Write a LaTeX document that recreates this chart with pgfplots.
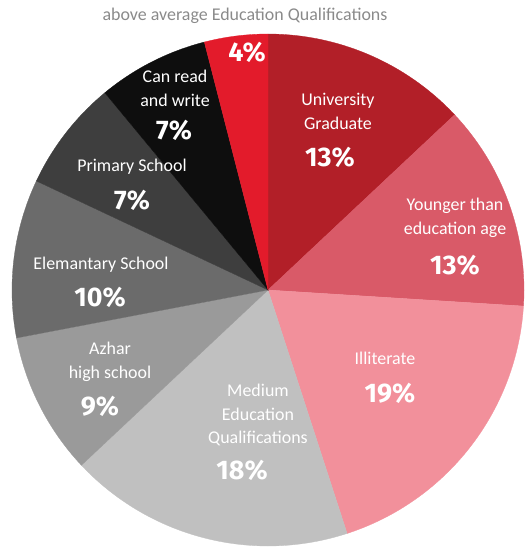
\documentclass[border=0pt]{standalone}
\usepackage{fontspec}
\setmainfont{Carlito}
\newfontfamily\pct{Fira Sans}
\usepackage{pgfplots}
\pgfplotsset{compat=1.18}
\definecolor{cUni}{HTML}{B21F28}
\definecolor{cYou}{HTML}{D95A68}
\definecolor{cIll}{HTML}{F2909B}
\definecolor{cMed}{HTML}{C0C0C0}
\definecolor{cAzh}{HTML}{9A9A9A}
\definecolor{cEle}{HTML}{6B6B6B}
\definecolor{cPri}{HTML}{3E3E3E}
\definecolor{cCan}{HTML}{0E0E0E}
\definecolor{cAbv}{HTML}{E31B2B}
\definecolor{cTitle}{HTML}{8A8A8A}
% slice: colour, start angle, end angle (angles from percentages: 90 - 3.6*cumulative)
\newcommand{\slice}[3]{%
  \addplot[fill=#1, draw=#1, line width=0.3pt, domain=#2:#3, samples=80, variable=\t]
    ({268+256*cos(t)},{290-256*sin(t)}) -- (axis cs:268,290) -- cycle;}
\begin{document}
\begin{tikzpicture}
\begin{axis}[
  scale only axis, width=528bp, height=547bp,
  xmin=0, xmax=528, ymin=0, ymax=547, y dir=reverse,
  hide axis, clip=false]
% percentages: University 13, Younger 13, Illiterate 19, Medium 18, Azhar 9,
% Elementary 10, Primary 7, Can read 7, above average 4
\slice{cUni}{43.2}{90}
\slice{cYou}{-3.6}{43.2}
\slice{cIll}{-72}{-3.6}
\slice{cMed}{-136.8}{-72}
\slice{cAzh}{-169.2}{-136.8}
\slice{cEle}{-205.2}{-169.2}
\slice{cPri}{-230.4}{-205.2}
\slice{cCan}{-255.6}{-230.4}
\slice{cAbv}{-270}{-255.6}
\path (axis cs:0,0) -- (axis cs:528,547);
\tikzset{lab/.style={align=center, text=white, font=\fontsize{18}{24}\selectfont},
         pc/.style={text=white, font=\pct\bfseries\fontsize{27}{30}\selectfont}}
\node[text=cTitle, font=\fontsize{18}{22}\selectfont] at (axis cs:245,16) {above average Education Qualifications};
\node[pc] at (axis cs:247,52) {4\%};
\node[lab] at (axis cs:338,111) {University\\Graduate};
\node[pc] at (axis cs:330,157) {13\%};
\node[lab] at (axis cs:455,218) {Younger than\\education age};
\node[pc] at (axis cs:455,265) {13\%};
\node[lab] at (axis cs:385,358) {Illiterate};
\node[pc] at (axis cs:390,393) {19\%};
\node[lab] at (axis cs:258,415) {Medium\\Education\\Qualifications};
\node[pc] at (axis cs:242,470) {18\%};
\node[lab] at (axis cs:110,362) {Azhar\\high school};
\node[pc] at (axis cs:100,406) {9\%};
\node[lab] at (axis cs:101,265) {Elemantary School};
\node[pc] at (axis cs:100,297) {10\%};
\node[lab] at (axis cs:132,167) {Primary School};
\node[pc] at (axis cs:132,200) {7\%};
\node[lab] at (axis cs:175,88) {Can read\\and write};
\node[pc] at (axis cs:174,130) {7\%};
\end{axis}
\end{tikzpicture}
\end{document}
